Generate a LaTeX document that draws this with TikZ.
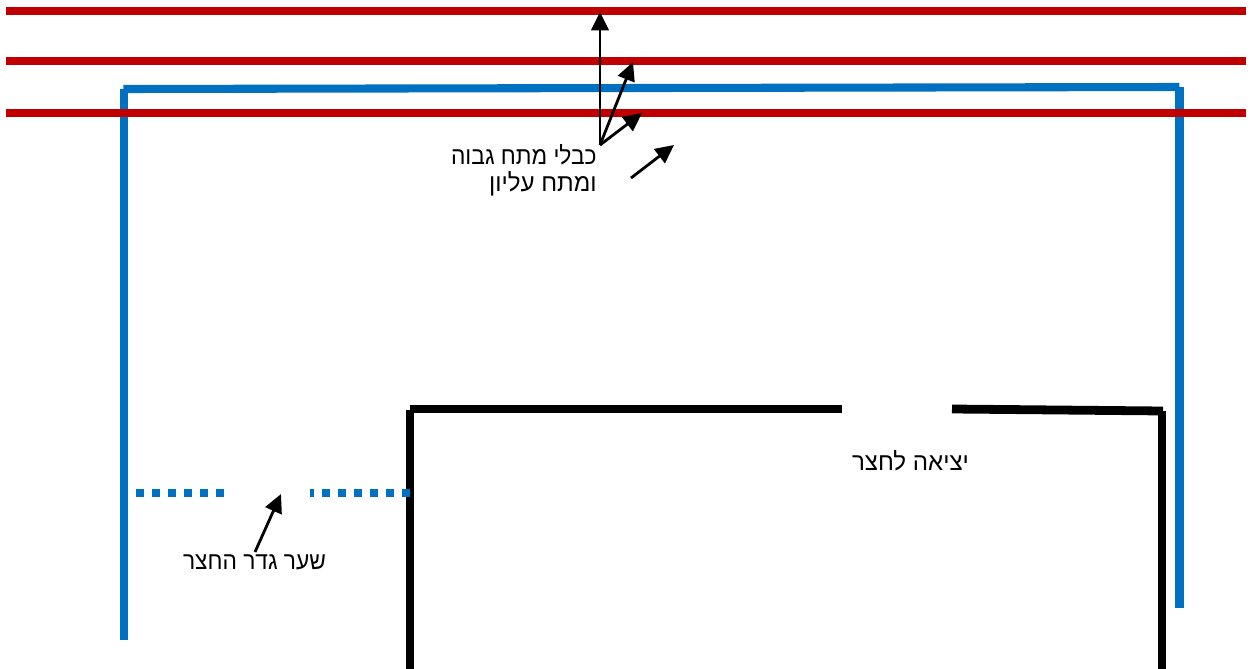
\documentclass[tikz,border=0pt]{standalone}
\usepackage{fontspec}
\usepackage{xcolor}
\usetikzlibrary{arrows.meta,positioning}
\setmainfont{Liberation Sans}
\newfontfamily\hebfont[Script=Hebrew,FakeStretch=0.98]{Liberation Sans}
\newfontfamily\hebnarrow[Script=Hebrew,FakeStretch=0.925]{Liberation Sans}
\TeXXeTstate=1
\definecolor{cablered}{RGB}{192,0,0}
\definecolor{fenceblue}{RGB}{0,112,192}

\begin{document}
\begin{tikzpicture}[x=0.02cm,y=-0.02cm,
  cable/.style={line width=4.6pt, color=cablered},
  fence/.style={line width=4.6pt, color=fenceblue},
  gatedots/.style={line width=4.7pt, color=fenceblue, dash pattern=on 4.55pt off 4.55pt},
  wall/.style={line width=5pt, color=black},
  arrow/.style={line width=1.6pt, -{Triangle[length=10.5pt,width=10pt]}, color=black},
  caption/.style={inner sep=0pt, font=\hebfont\fontsize{14pt}{15.2pt}\selectfont, align=right}
]
  \useasboundingbox (0,0) rectangle (1252,669);

  % yard fence
  \coordinate (fenceSW) at (123.7,640);
  \coordinate (fenceNW) at (123.7,89.5);
  \coordinate (fenceTopL) at (123.3,89);
  \coordinate (fenceTopR) at (1179.3,87);
  \coordinate (fenceNE) at (1179.5,87.5);
  \coordinate (fenceSE) at (1179.5,608);
  \draw[fence] (fenceSW) -- (fenceNW);
  \draw[fence] (fenceTopL) -- (fenceTopR);
  \draw[fence] (fenceNE) -- (fenceSE);

  % high voltage lines
  \coordinate (lineAleft) at (6,11);
  \coordinate (lineAright) at (1246,11);
  \coordinate (lineBleft) at (6,61);
  \coordinate (lineBright) at (1246,61);
  \coordinate (lineCleft) at (6,113);
  \coordinate (lineCright) at (1246,113);
  \draw[cable] (lineAleft) -- (lineAright);
  \draw[cable] (lineBleft) -- (lineBright);
  \draw[cable] (lineCleft) -- (lineCright);

  % house
  \coordinate (wallSW) at (410,669);
  \coordinate (wallNW) at (410,409.5);
  \coordinate (wallTopL) at (410,409);
  \coordinate (doorL) at (842,409);
  \coordinate (doorR) at (952,409);
  \coordinate (wallTopR) at (1163,411);
  \coordinate (wallNE) at (1162,410.5);
  \coordinate (wallSE) at (1162,669);
  \draw[wall] (wallSW) -- (wallNW);
  \draw[wall] (wallTopL) -- (doorL);
  \draw[wall] (doorR) -- (wallTopR);
  \draw[wall] (wallNE) -- (wallSE);

  % gate
  \coordinate (gateA) at (120,493);
  \coordinate (gateB) at (224,493);
  \coordinate (gateC) at (410,493);
  \coordinate (gateD) at (310,493);
  \draw[gatedots] (gateA) -- (gateB);
  \draw[gatedots] (gateC) -- (gateD);

  % labels
  \node[caption, anchor=north east] (cables) at (597,144) {{\hebnarrow\beginR כבלי מתח גבוה\endR}\\\beginR ומתח עליון\endR};
  \node[caption] (gatetext) at (254.5,562) {\hebnarrow\beginR שער גדר החצר\endR};
  \node[caption] (doortext) at (910.5,461) {\beginR יציאה לחצר\endR};

  \coordinate (cablefrom) at (600,145);
  \coordinate (tipA) at (600,12);
  \coordinate (tipB) at (633,62);
  \coordinate (tipC) at (642,113);
  \coordinate (spareA) at (631,178);
  \coordinate (spareB) at (674,145);
  \coordinate (gatefrom) at (255,552);
  \coordinate (gatetip) at (281,494);
  \draw[arrow] (cablefrom) -- (tipA);
  \draw[arrow] (cablefrom) -- (tipB);
  \draw[arrow] (cablefrom) -- (tipC);
  \draw[arrow] (spareA) -- (spareB);
  \draw[arrow] (gatefrom) -- (gatetip);
\end{tikzpicture}
\end{document}
